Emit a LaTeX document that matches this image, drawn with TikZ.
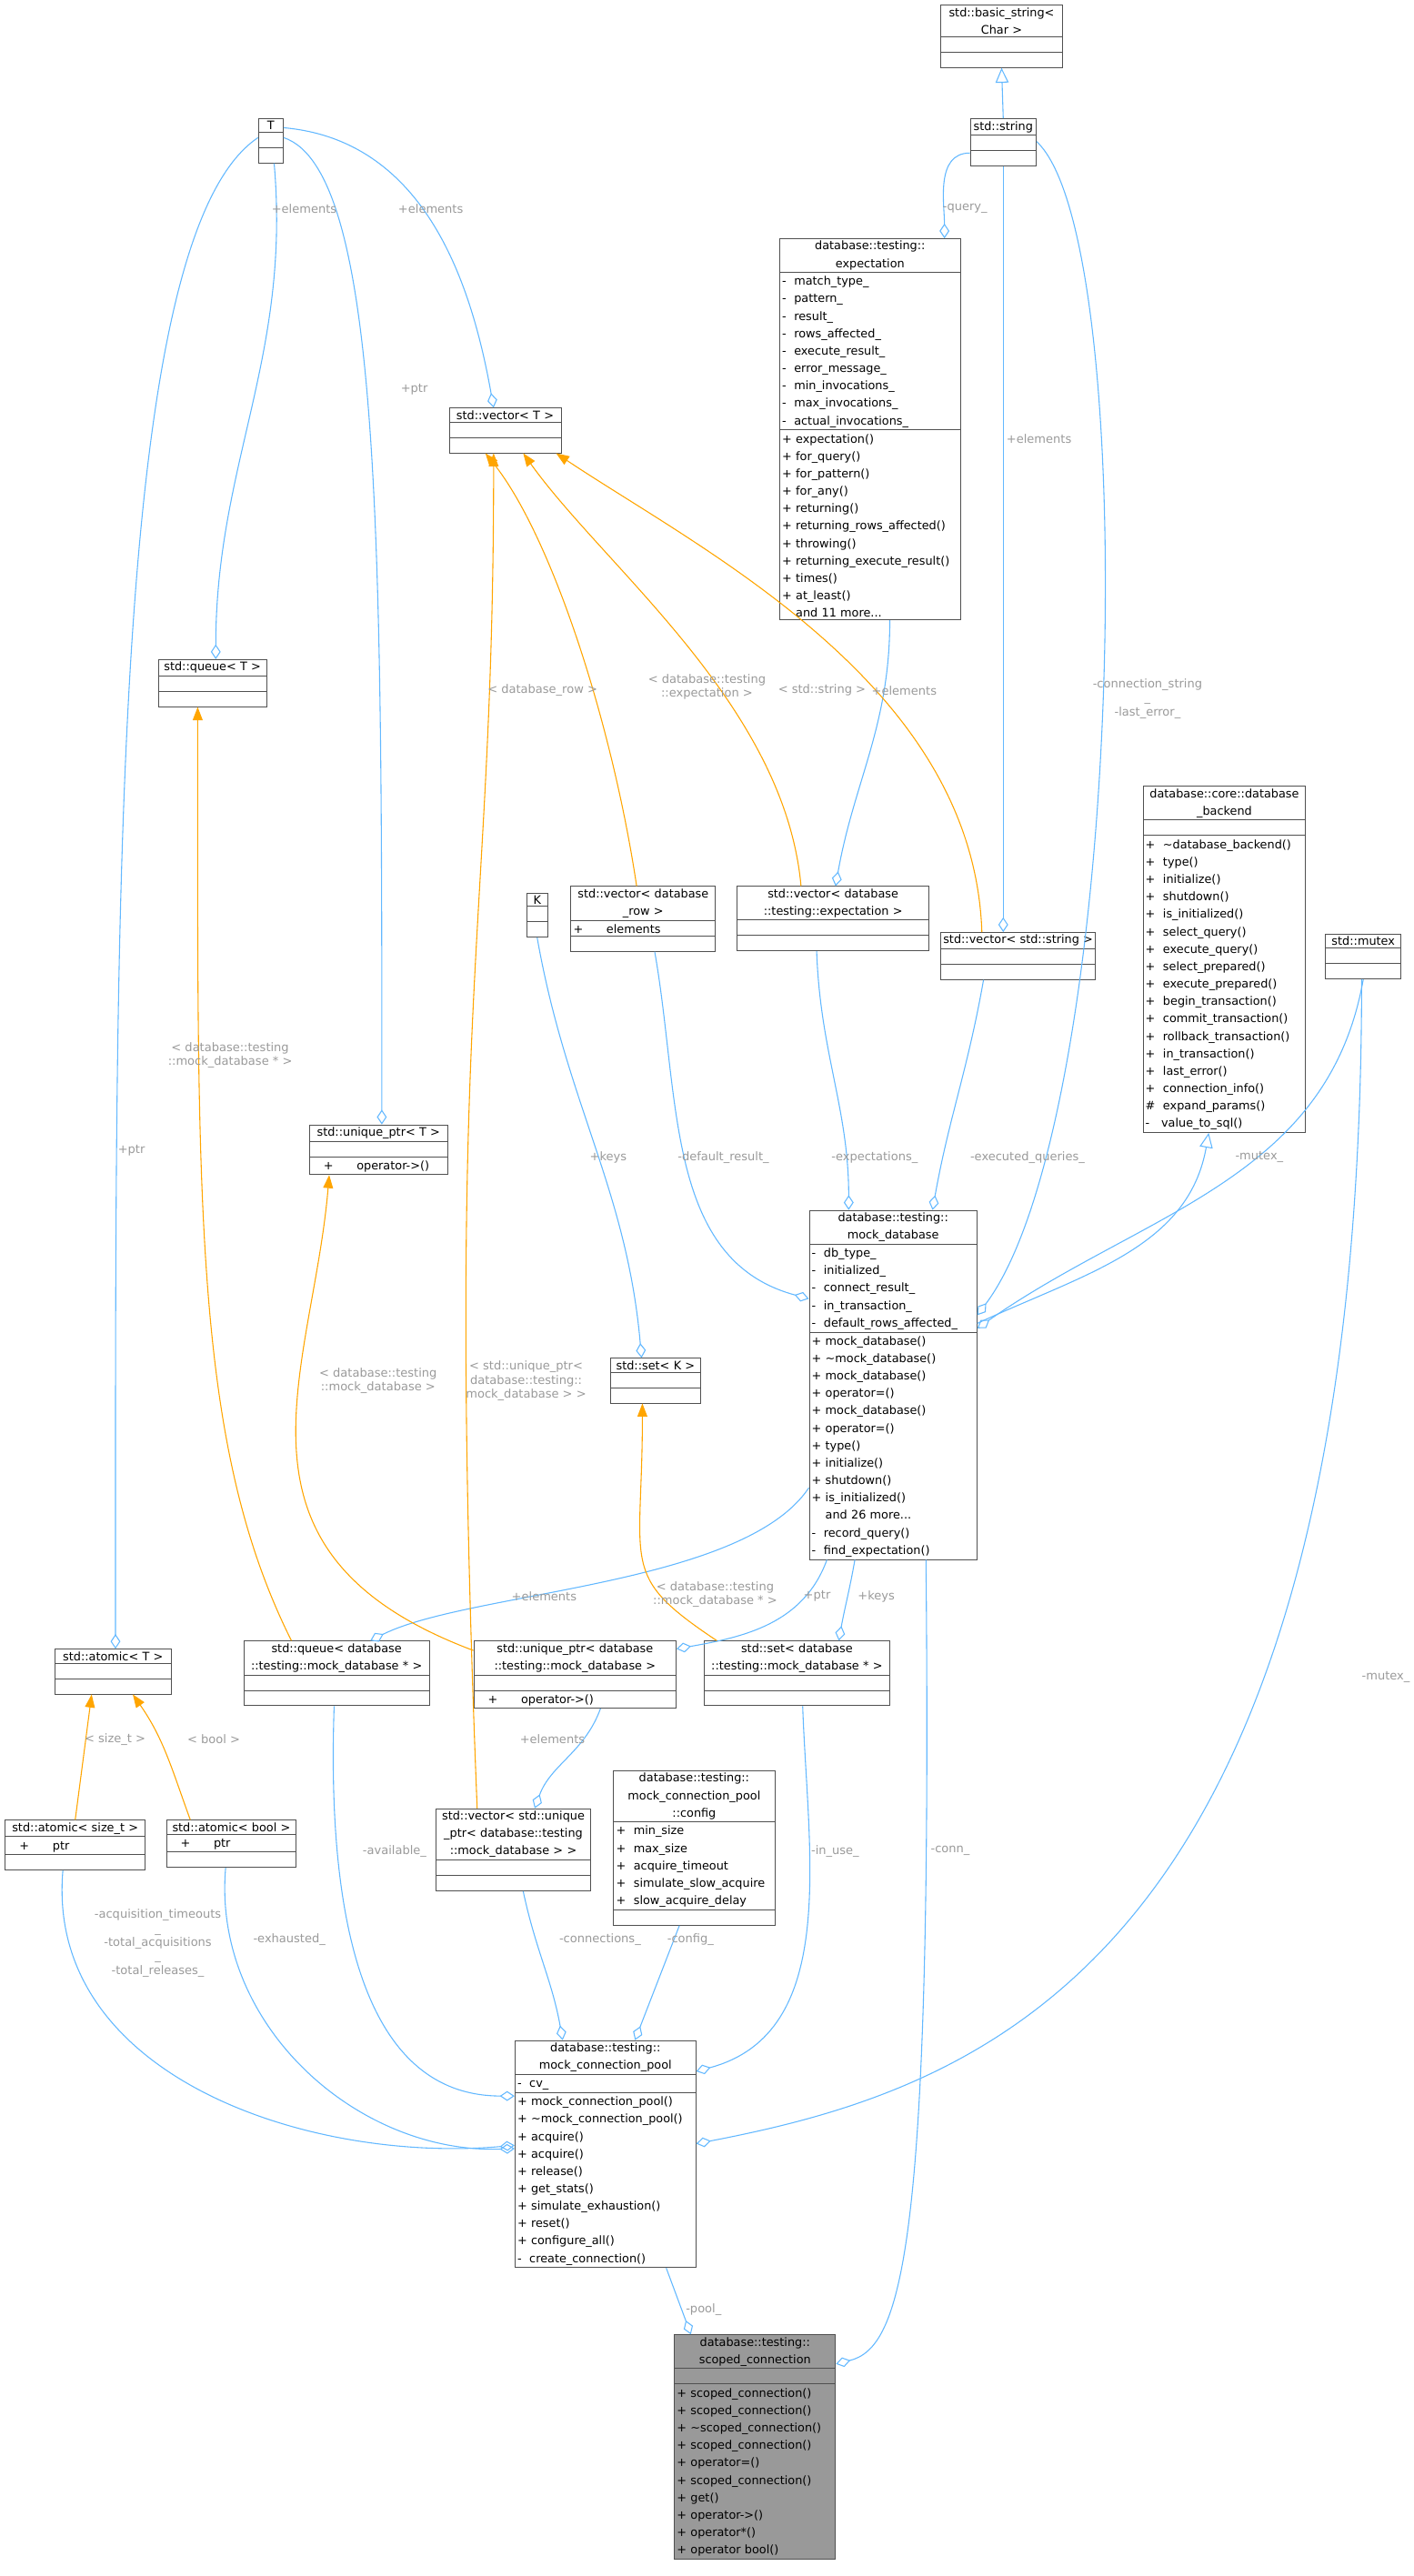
\documentclass[tikz,border=0pt]{standalone}
\usepackage{fontspec}
\setmainfont{DejaVu Sans}
\usepackage{tikz}
\usetikzlibrary{shapes.multipart,arrows.meta,calc}
\definecolor{edgeblue}{HTML}{63B8FF}
\definecolor{edgeorange}{HTML}{FFA500}
\definecolor{lblgray}{HTML}{9A9A9A}
\definecolor{boxline}{HTML}{505050}
\definecolor{hilite}{HTML}{999999}

% class box: name, left, top, width, title, attributes, methods
\newcommand{\umlbox}[8][]{%
  \node[klass, #1, text width=#5pt-3pt] (#2) at (#3,-#4)
    {\centering #6\par
     \nodepart{two}\rule{0pt}{6.5pt}#7
     \nodepart{three}\rule{0pt}{6.5pt}#8};}

\begin{document}
\begin{tikzpicture}[x=1pt, y=1pt,
    klass/.style={rectangle split, rectangle split parts=3, draw=boxline, line width=0.5pt,
      anchor=north west, font=\fontsize{7.1}{10.6}\selectfont, inner xsep=1.5pt, inner ysep=1.2pt,
      align=left, fill=white},
    agg/.style={draw=edgeblue, line width=0.6pt, -{Diamond[open, length=9pt, width=6pt]}},
    tmpl/.style={draw=edgeorange, line width=0.6pt, -{Triangle[length=8pt, width=6pt, fill=edgeorange]}},
    inh/.style={draw=edgeblue, line width=0.6pt, -{Triangle[open, length=9pt, width=8pt]}},
    lbl/.style={text=lblgray, font=\fontsize{7.2}{8.5}\selectfont, align=center, inner sep=1pt}
]
\useasboundingbox (0,0) rectangle (860,-1567);

% classes
\umlbox{bstr}{572}{3}{74}{std::basic\_string<\\Char >}{}{}
\umlbox{str}{590}{72}{40}{std::string}{}{}
\umlbox{tT}{157}{72}{15}{T}{}{}
\umlbox{expect}{474}{145}{110}{database::testing::\\expectation}
  {- \ match\_type\_\\- \ pattern\_\\- \ result\_\\- \ rows\_affected\_\\- \ execute\_result\_\\- \ error\_message\_\\- \ min\_invocations\_\\- \ max\_invocations\_\\- \ actual\_invocations\_}
  {+ expectation()\\+ for\_query()\\+ for\_pattern()\\+ for\_any()\\+ returning()\\+ returning\_rows\_affected()\\+ throwing()\\+ returning\_execute\_result()\\+ times()\\+ at\_least()\\\phantom{+ }and 11 more...}
\umlbox{vecT}{273}{248}{68}{std::vector< T >}{}{}
\umlbox{queueT}{96}{401}{66}{std::queue< T >}{}{}
\umlbox{backend}{695}{478}{99}{database::core::database\\\_backend}{}
  {+ \ \textasciitilde database\_backend()\\+ \ type()\\+ \ initialize()\\+ \ shutdown()\\+ \ is\_initialized()\\+ \ select\_query()\\+ \ execute\_query()\\+ \ select\_prepared()\\+ \ execute\_prepared()\\+ \ begin\_transaction()\\+ \ commit\_transaction()\\+ \ rollback\_transaction()\\+ \ in\_transaction()\\+ \ last\_error()\\+ \ connection\_info()\\\# \ expand\_params()\\- \ \ value\_to\_sql()}
\umlbox{mutex}{806}{568}{46}{std::mutex}{}{}
\umlbox{kK}{320}{543}{13}{K}{}{}
\umlbox{vecrow}{347}{539}{88}{std::vector< database\\\_row >}{+ \quad\ \ elements}{}
\umlbox{vecexp}{448}{539}{117}{std::vector< database\\::testing::expectation >}{}{}
\umlbox{vecstr}{572}{567}{94}{\mbox{std::vector< std::string >}}{}{}
\umlbox{uptrT}{188}{684}{84}{std::unique\_ptr< T >}{}{\quad+\qquad operator->()}
\umlbox{mockdb}{492}{736}{102}{database::testing::\\mock\_database}
  {- \ db\_type\_\\- \ initialized\_\\- \ connect\_result\_\\- \ in\_transaction\_\\- \ default\_rows\_affected\_}
  {+ mock\_database()\\+ \textasciitilde mock\_database()\\+ mock\_database()\\+ operator=()\\+ mock\_database()\\+ operator=()\\+ type()\\+ initialize()\\+ shutdown()\\+ is\_initialized()\\\phantom{+ }and 26 more...\\- \ record\_query()\\- \ find\_expectation()}
\umlbox{setK}{371}{826}{55}{std::set< K >}{}{}
\umlbox{atomT}{33}{1003}{71}{std::atomic< T >}{}{}
\umlbox{queuedb}{148}{998}{113}{std::queue< database\\::testing::mock\_database * >}{}{}
\umlbox{uptrdb}{288}{998}{123}{std::unique\_ptr< database\\::testing::mock\_database >}{}{\quad+\qquad operator->()}
\umlbox{setdb}{428}{998}{113}{std::set< database\\::testing::mock\_database * >}{}{}
\umlbox{atomsz}{3}{1107}{85}{std::atomic< size\_t >}{\quad+\qquad ptr}{}
\umlbox{atombool}{101}{1107}{79}{std::atomic< bool >}{\quad+\qquad ptr}{}
\umlbox{vecuptr}{265}{1100}{94}{std::vector< std::unique\\\_ptr< database::testing\\::mock\_database > >}{}{}
\umlbox{poolcfg}{373}{1077}{98}{database::testing::\\mock\_connection\_pool\\::config}
  {+ \ min\_size\\+ \ max\_size\\+ \ acquire\_timeout\\+ \ simulate\_slow\_acquire\\+ \ slow\_acquire\_delay}{}
\umlbox{pool}{313}{1241}{110}{database::testing::\\mock\_connection\_pool}{- \ cv\_}
  {+ mock\_connection\_pool()\\+ \textasciitilde mock\_connection\_pool()\\+ acquire()\\+ acquire()\\+ release()\\+ get\_stats()\\+ simulate\_exhaustion()\\+ reset()\\+ configure\_all()\\- \ create\_connection()}
\umlbox[fill=hilite]{scoped}{410}{1420}{98}{database::testing::\\scoped\_connection}{}
  {+ scoped\_connection()\\+ scoped\_connection()\\+ \textasciitilde scoped\_connection()\\+ scoped\_connection()\\+ operator=()\\+ scoped\_connection()\\+ get()\\+ operator->()\\+ operator*()\\+ operator bool()}

% inheritance
\draw[inh] (str.north) -- (bstr.south);
\draw[inh] ([yshift=-69pt]mockdb.north east) to[out=25,in=-100] ([xshift=-9.5pt]backend.south);

% members
\draw[agg] ([yshift=8pt]str.south west) to[out=180,in=90] ([xshift=-10pt]expect.north east);
\draw[agg] ([xshift=2pt]tT.south) to[out=-85,in=90] ([xshift=2pt]queueT.north);
\draw[agg] ([yshift=8pt]tT.east) to[out=-5,in=100] ([xshift=-7pt]vecT.north);
\draw[agg] ([yshift=2pt]tT.east) .. controls +(60,-20) and +(0,350) .. ([xshift=2pt]uptrT.north);
\draw[agg] ([yshift=2pt]tT.west) .. controls +(-90,-60) and +(0,450) .. ([xshift=1.5pt]atomT.north);
\draw[agg] (str.south) -- ([xshift=-9pt]vecstr.north);
\draw[agg] ([xshift=12pt]expect.south) to[out=-90,in=80] ([xshift=1.5pt]vecexp.north);
\draw[agg] ([yshift=15pt]str.south east) .. controls +(65,-60) and +(90,120) .. ([yshift=-64pt]mockdb.north east);
\draw[agg] ([xshift=7pt]vecrow.south) to[out=-80,in=165] ([yshift=-54pt]mockdb.north west);
\draw[agg] ([xshift=-10pt]vecexp.south) to[out=-88,in=90] ([xshift=-27pt]mockdb.north);
\draw[agg] ([xshift=-21pt]vecstr.south) to[out=-100,in=80] ([xshift=24pt]mockdb.north);
\draw[agg] (mutex.south) to[out=-100,in=35] ([yshift=-72pt]mockdb.north east);
\draw[agg] (kK.south) to[out=-80,in=95] ([xshift=-8.5pt]setK.north);
\draw[agg] ([yshift=-169pt]mockdb.north west) .. controls +(-40,-60) and +(60,30) .. ([xshift=20.5pt]queuedb.north);
\draw[agg] ([xshift=11pt]mockdb.south west) to[out=-110,in=10] ([yshift=-5pt]uptrdb.north east);
\draw[agg] ([xshift=28pt]mockdb.south west) to[out=-100,in=80] ([xshift=25.5pt]setdb.north);
\draw[agg] ([xshift=15.5pt]uptrdb.south) to[out=-110,in=70] ([xshift=13pt]vecuptr.north);
\draw[agg] ([xshift=-7.5pt]atomsz.south) to[out=-95,in=185] ([yshift=-64pt]pool.north west);
\draw[agg] ([xshift=-3.5pt]atombool.south) to[out=-95,in=182] ([yshift=-66pt]pool.north west);
\draw[agg] ([xshift=-1.5pt]queuedb.south) to[out=-92,in=180] ([yshift=-34pt]pool.north west);
\draw[agg] ([xshift=6pt]vecuptr.south) to[out=-78,in=100] ([xshift=-26pt]pool.north);
\draw[agg] ([xshift=-9pt]poolcfg.south) -- ([xshift=18pt]pool.north);
\draw[agg] ([xshift=3.5pt]setdb.south) to[out=-88,in=15] ([yshift=-19pt]pool.north east);
\draw[agg] ([xshift=-1pt]mutex.south) .. controls +(0,-595) and +(177,34) .. ([yshift=-63pt]pool.north east);
\draw[agg] ([xshift=37pt]pool.south) -- ([xshift=-39pt]scoped.north);
\draw[agg] ([xshift=20pt]mockdb.south) .. controls +(4,-420) and +(40,10) .. ([yshift=-18pt]scoped.north east);

% template instances
\draw[tmpl] ([xshift=-4pt]vecrow.north) .. controls +(-15,100) and +(40,-50) .. ([xshift=-12pt]vecT.south);
\draw[tmpl] ([xshift=-19.5pt]vecexp.north) .. controls +(-10,110) and +(50,-70) .. ([xshift=11pt]vecT.south);
\draw[tmpl] ([xshift=-22pt]vecstr.north) .. controls +(-5,150) and +(90,-60) .. ([xshift=31pt]vecT.south);
\draw[tmpl] ([xshift=-22pt]vecuptr.north) .. controls +(-20,500) and +(0,-300) .. ([xshift=-7pt]vecT.south);
\draw[tmpl] ([xshift=-27.5pt]queuedb.north) .. controls +(-60,120) and +(0,-300) .. ([xshift=-9pt]queueT.south);
\draw[tmpl] ([yshift=-6pt]uptrdb.north west) .. controls +(-160,60) and +(-10,-120) .. ([xshift=-30pt]uptrT.south);
\draw[tmpl] ([xshift=8pt]setdb.north west) .. controls +(-60,40) and +(0,-100) .. ([xshift=-8pt]setK.south);
\draw[tmpl] (atomsz.north) -- ([xshift=-13pt]atomT.south);
\draw[tmpl] ([xshift=-25pt]atombool.north) to[out=110,in=-55] ([xshift=12pt]atomT.south);

% labels
\node[lbl] (lquery) at (587,-127) {-query\_};
\node[lbl] (lelq) at (185,-127) {+elements};
\node[lbl] (lelv) at (262,-127) {+elements};
\node[lbl] (lptru) at (252,-237) {+ptr};
\node[lbl] (lptra) at (80,-700) {+ptr};
\node[lbl] (lels) at (632,-267) {+elements};
\node[lbl] (lele) at (550,-420) {+elements};
\node[lbl] (trow) at (330,-420) {< database\_row >};
\node[lbl] (texp) at (430,-418) {< database::testing\\::expectation >};
\node[lbl] (tstr) at (500,-420) {< std::string >};
\node[lbl] (lconn) at (698,-425) {-connection\_string\\\_\\-last\_error\_};
\node[lbl] (tqueue) at (140,-642) {< database::testing\\::mock\_database * >};
\node[lbl] (lkeys) at (370,-704) {+keys};
\node[lbl] (ldef) at (440,-704) {-default\_result\_};
\node[lbl] (lexps) at (532,-704) {-expectations\_};
\node[lbl] (lexq) at (625,-704) {-executed\_queries\_};
\node[lbl] (lmtx) at (766,-704) {-mutex\_};
\node[lbl] (tuptr) at (230,-840) {< database::testing\\::mock\_database >};
\node[lbl] (tvecu) at (320,-840) {< std::unique\_ptr<\\database::testing::\\mock\_database > >};
\node[lbl] (lelm) at (331,-971) {+elements};
\node[lbl] (tset) at (435,-970) {< database::testing\\::mock\_database * >};
\node[lbl] (lptrm) at (497,-971) {+ptr};
\node[lbl] (lkeym) at (533,-971) {+keys};
\node[lbl] (lmtxp) at (843,-1020) {-mutex\_};
\node[lbl] (tsz) at (70,-1058) {< size\_t >};
\node[lbl] (tbool) at (130,-1058) {< bool >};
\node[lbl] (lelu) at (336,-1058) {+elements};
\node[lbl] (lavail) at (240,-1126) {-available\_};
\node[lbl] (linuse) at (508,-1126) {-in\_use\_};
\node[lbl] (lconnm) at (578,-1126) {-conn\_};
\node[lbl] (lstats) at (96,-1182) {-acquisition\_timeouts\\\_\\-total\_acquisitions\\\_\\-total\_releases\_};
\node[lbl] (lexh) at (176,-1180) {-exhausted\_};
\node[lbl] (lcons) at (365,-1180) {-connections\_};
\node[lbl] (lcfg) at (420,-1180) {-config\_};
\node[lbl] (lpool) at (428,-1405) {-pool\_};
\end{tikzpicture}
\end{document}
